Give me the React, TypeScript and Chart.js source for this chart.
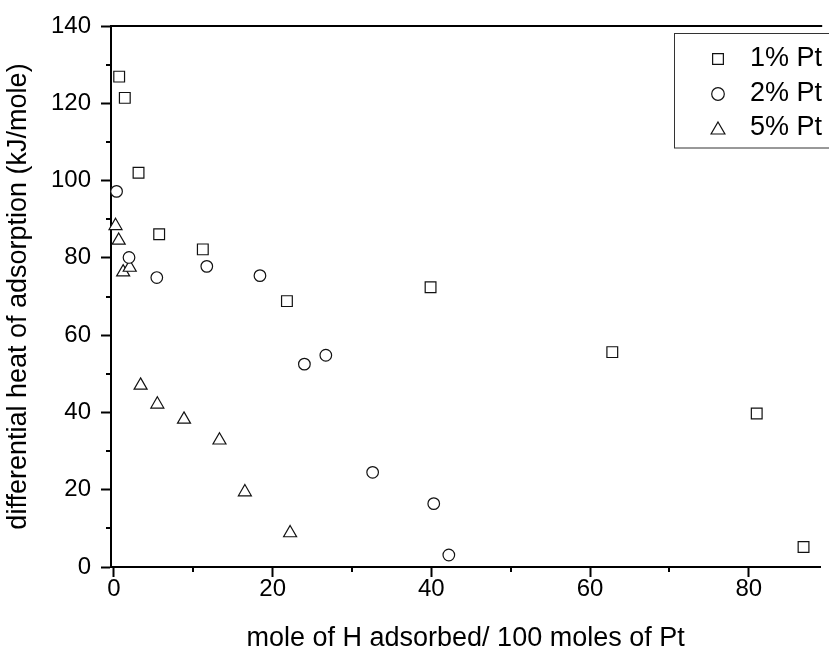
import React, { useEffect, useRef } from 'react';
import { Chart, registerables } from 'chart.js';

Chart.register(...registerables);

// ---- data ----
const seriesLabels = ['1% Pt', '2% Pt', '5% Pt'];
const seriesStyles = ['rect', 'circle', 'triangle'];

const pt1X = [0.66, 1.37, 3.1, 5.7, 11.2, 21.8, 39.9, 62.8, 81.0, 86.9];
const pt1Y = [126.9, 121.4, 102.0, 86.1, 82.2, 68.8, 72.4, 55.6, 39.7, 5.2];

const pt2X = [0.33, 1.9, 5.4, 11.7, 18.4, 24.0, 26.7, 32.6, 40.3, 42.2];
const pt2Y = [97.2, 80.1, 74.9, 77.8, 75.4, 52.5, 54.8, 24.5, 16.4, 3.1];

const pt5X = [0.2, 0.6, 1.16, 1.99, 3.36, 5.47, 8.83, 13.3, 16.5, 22.2];
const pt5Y = [88.3, 84.5, 76.3, 77.5, 47.0, 42.1, 38.2, 32.8, 19.4, 8.8];

const xMajorTicks = [0, 20, 40, 60, 80];
const xMinorTicks = [10, 30, 50, 70];
const yMajorTicks = [0, 20, 40, 60, 80, 100, 120, 140];
const yMinorTicks = [10, 30, 50, 70, 90, 110, 130];

const xTitle = 'mole of H adsorbed/ 100 moles of Pt';
const yTitle = 'differential heat of adsorption (kJ/mole)';

const FONT = '"Liberation Sans", Arial, sans-serif';

function toPoints(xs: number[], ys: number[]) {
  return xs.map((x, i) => ({ x, y: ys[i] }));
}

function drawMarker(ctx: CanvasRenderingContext2D, style: string, x: number, y: number, r: number) {
  ctx.beginPath();
  if (style === 'rect') {
    const s = r * Math.SQRT1_2;
    ctx.rect(x - s, y - s, 2 * s, 2 * s);
  } else if (style === 'circle') {
    ctx.arc(x, y, r, 0, Math.PI * 2);
  } else {
    ctx.moveTo(x, y - r);
    ctx.lineTo(x + 0.866 * r, y + 0.5 * r);
    ctx.lineTo(x - 0.866 * r, y + 0.5 * r);
    ctx.closePath();
  }
  ctx.fill();
  ctx.stroke();
}

const decorPlugin = {
  id: 'decor',
  afterDraw(chart: any) {
    const ctx: CanvasRenderingContext2D = chart.ctx;
    const area = chart.chartArea;
    const xs = chart.scales.x;
    const ys = chart.scales.y;
    ctx.save();
    ctx.strokeStyle = '#000';
    ctx.lineWidth = 2;
    // top frame line
    ctx.beginPath();
    ctx.moveTo(area.left, area.top);
    ctx.lineTo(area.right + 2, area.top);
    ctx.stroke();
    // minor ticks
    ctx.beginPath();
    xMinorTicks.forEach((v) => {
      const px = Math.round(xs.getPixelForValue(v));
      ctx.moveTo(px, area.bottom);
      ctx.lineTo(px, area.bottom + 5);
    });
    yMinorTicks.forEach((v) => {
      const py = Math.round(ys.getPixelForValue(v));
      ctx.moveTo(area.left, py);
      ctx.lineTo(area.left - 5, py);
    });
    ctx.stroke();

    // legend
    ctx.lineWidth = 1;
    ctx.strokeStyle = '#333';
    ctx.strokeRect(674.5, 33.5, 170, 114.5);
    const rowsY = [59, 94, 128];
    const radii = [7.6, 6.3, 8];
    const offs = [0, 0, 2];
    chart.data.datasets.forEach((ds: any, i: number) => {
      ctx.fillStyle = '#fff';
      ctx.strokeStyle = '#111';
      ctx.lineWidth = 1.2;
      drawMarker(ctx, seriesStyles[i], 718, rowsY[i] + offs[i], radii[i]);
      ctx.fillStyle = '#000';
      ctx.font = `27px ${FONT}`;
      ctx.textBaseline = 'middle';
      ctx.textAlign = 'left';
      ctx.fillText(ds.label, 750, rowsY[i]);
    });
    ctx.restore();
  },
};

export default function App() {
  const ref = useRef<HTMLCanvasElement | null>(null);

  useEffect(() => {
    document.body.style.margin = '0';
    if (!ref.current) return;
    const radii = [7.6, 5.8, 7.5];
    const dataSets = [toPoints(pt1X, pt1Y), toPoints(pt2X, pt2Y), toPoints(pt5X, pt5Y)];
    const chart = new Chart(ref.current, {
      type: 'scatter',
      data: {
        datasets: dataSets.map((d, i) => ({
          label: seriesLabels[i],
          data: d,
          pointStyle: seriesStyles[i] as any,
          pointRadius: radii[i],
          pointHoverRadius: radii[i],
          pointBorderWidth: 1.2,
          borderColor: '#111',
          backgroundColor: '#fff',
          showLine: false,
          clip: false as any,
        })),
      },
      options: {
        animation: false,
        responsive: false,
        devicePixelRatio: 1,
        layout: { padding: { top: 26, left: 0, right: 0, bottom: 0 } },
        plugins: {
          legend: { display: false },
          tooltip: { enabled: false },
        },
        scales: {
          x: {
            type: 'linear',
            min: -0.37,
            max: 89,
            afterBuildTicks: (scale: any) => {
              scale.ticks = xMajorTicks.map((v) => ({ value: v }));
            },
            afterFit: (scale: any) => {
              scale.height = 85;
            },
            grid: {
              drawOnChartArea: false,
              drawTicks: true,
              tickLength: 10,
              tickWidth: 2,
              tickColor: '#000',
            },
            border: { display: true, color: '#000', width: 2 },
            ticks: {
              color: '#000',
              padding: 0,
              maxRotation: 0,
              font: { family: FONT, size: 24, lineHeight: 1 },
            },
            title: {
              display: true,
              text: xTitle,
              color: '#000',
              font: { family: FONT, size: 27, lineHeight: 1 },
              padding: { top: 0, bottom: 0 },
            },
          },
          y: {
            type: 'linear',
            min: 0,
            max: 140,
            afterBuildTicks: (scale: any) => {
              scale.ticks = yMajorTicks.map((v) => ({ value: v }));
            },
            afterFit: (scale: any) => {
              scale.width = 111;
            },
            grid: {
              drawOnChartArea: false,
              drawTicks: true,
              tickLength: 10,
              tickWidth: 2,
              tickColor: '#000',
            },
            border: { display: true, color: '#000', width: 2 },
            ticks: {
              color: '#000',
              padding: 10,
              font: { family: FONT, size: 24, lineHeight: 1 },
            },
            title: {
              display: true,
              text: yTitle,
              color: '#000',
              font: { family: FONT, size: 27, lineHeight: 1 },
              padding: { top: 5, bottom: 0 },
            },
          },
        },
      },
      plugins: [decorPlugin],
    });
    return () => chart.destroy();
  }, []);

  return (
    <div style={{ position: 'absolute', left: 0, top: 0, width: 829, height: 652 }}>
      <canvas ref={ref} width={829} height={652} style={{ display: 'block' }} />
    </div>
  );
}
